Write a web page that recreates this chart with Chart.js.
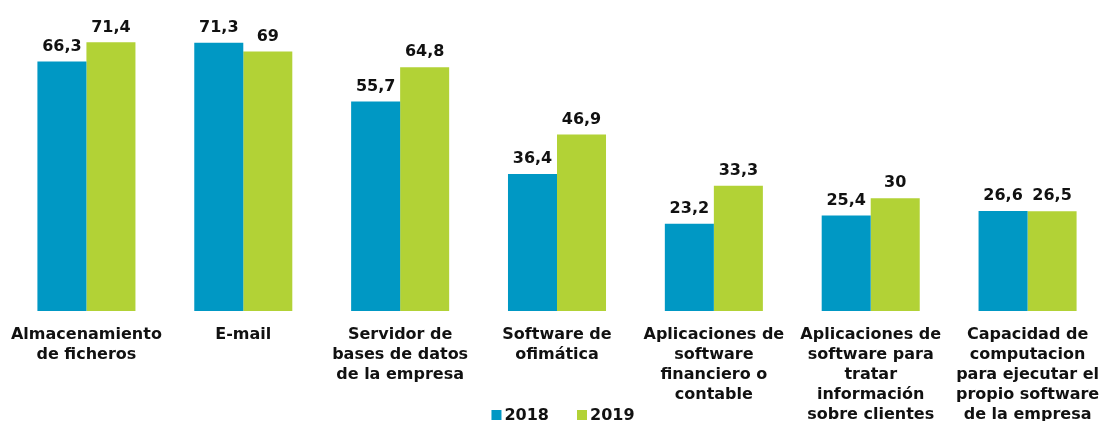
<!DOCTYPE html>
<html><head><meta charset="utf-8">
<script src="https://cdn.jsdelivr.net/npm/chart.js@4/dist/chart.umd.min.js"></script>
<style>html,body{margin:0;padding:0;background:#fff;overflow:hidden;}canvas{display:block;}</style>
</head><body><canvas id="c" width="1106" height="421" style="width:1106px;height:421px"></canvas>
<script>
const categories = [
  ["Almacenamiento","de ficheros"],
  ["E-mail"],
  ["Servidor de","bases de datos","de la empresa"],
  ["Software de","ofimática"],
  ["Aplicaciones de","software","financiero o","contable"],
  ["Aplicaciones de","software para","tratar","información","sobre clientes"],
  ["Capacidad de","computacion","para ejecutar el","propio software","de la empresa"]
];
const series2018 = [66.3, 71.3, 55.7, 36.4, 23.2, 25.4, 26.6];
const series2019 = [71.4, 69, 64.8, 46.9, 33.3, 30, 26.5];
const seriesNames = ["2018", "2019"];

const FONT = "'DejaVu Sans', Verdana, sans-serif";
const TEXT = "#111";
const labelPlugin = {
  id: 'valueLabels',
  afterDatasetsDraw(chart) {
    const ctx = chart.ctx;
    ctx.save();
    ctx.font = "bold 16px " + FONT;
    ctx.fillStyle = TEXT;
    ctx.textAlign = "center";
    ctx.textBaseline = "bottom";
    chart.data.datasets.forEach((ds, i) => {
      chart.getDatasetMeta(i).data.forEach((bar, j) => {
        ctx.fillText(String(ds.data[j]).replace('.', ','), bar.x, bar.y - 7);
      });
    });
    ctx.restore();
  }
};
const legendPlugin = {
  id: 'customLegend',
  afterDraw(chart) {
    const ctx = chart.ctx;
    ctx.save();
    ctx.font = "bold 16px " + FONT;
    ctx.textBaseline = "middle";
    ctx.textAlign = "left";
    const box = 10, gap = 3, itemGap = 28;
    const items = chart.data.datasets.map(ds => ({ t: ds.label, c: ds.backgroundColor, w: ctx.measureText(ds.label).width }));
    let total = items.reduce((s, it) => s + box + gap + it.w, 0) + itemGap * (items.length - 1);
    const ca = chart.chartArea;
    let x = (ca.left + ca.right) / 2 + 6 - total / 2;
    const y = chart.height - 6;
    items.forEach(it => {
      ctx.fillStyle = it.c;
      ctx.fillRect(x, y - box / 2, box, box);
      x += box + gap;
      ctx.fillStyle = TEXT;
      ctx.fillText(it.t, x, y + 1);
      x += it.w + itemGap;
    });
    ctx.restore();
  }
};

new Chart(document.getElementById('c'), {
  type: 'bar',
  data: {
    labels: categories,
    datasets: [
      { label: seriesNames[0], data: series2018, backgroundColor: '#0098C4' },
      { label: seriesNames[1], data: series2019, backgroundColor: '#B2D236' }
    ]
  },
  options: {
    responsive: false,
    animation: false,
    layout: { padding: { left: 8, right: 0, top: 10, bottom: 0 } },
    datasets: { bar: { barPercentage: 1, categoryPercentage: 0.625 } },
    plugins: {
      legend: { display: false },
      tooltip: { enabled: false }
    },
    scales: {
      x: {
        grid: { display: false, drawTicks: false },
        border: { display: false },
        afterFit: (scale) => { scale.height = 110; scale.paddingLeft = 0; scale.paddingRight = 0; },
        ticks: { color: TEXT, padding: 14, maxRotation: 0, autoSkip: false, font: { family: FONT, size: 16, weight: 'bold', lineHeight: 1.25 } }
      },
      y: {
        display: false,
        min: 0,
        max: 80
      }
    }
  },
  plugins: [labelPlugin, legendPlugin]
});
</script></body></html>
